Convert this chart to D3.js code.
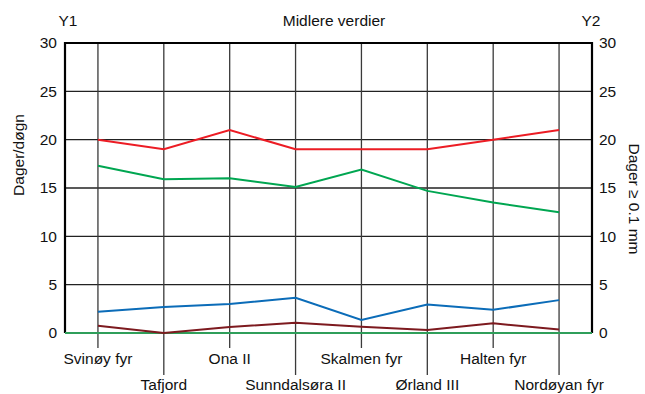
<!DOCTYPE html>
<html>
<head>
<meta charset="utf-8">
<script src="https://cdn.jsdelivr.net/npm/d3@7"></script>
<style>
  html, body { margin: 0; padding: 0; background: #fff; }
  svg text { font-family: "Liberation Sans", Arial, Helvetica, sans-serif; fill: #111; }
</style>
</head>
<body>
<svg id="chart" width="645" height="394"></svg>
<script>
// Stations along the x axis
const stations = ["Svinøy fyr", "Tafjord", "Ona II", "Sunndalsøra II", "Skalmen fyr", "Ørland III", "Halten fyr", "Nordøyan fyr"];

// Mean values per station
const redSeries    = [20, 19, 21, 19, 19, 19, 20, 21];
const greenSeries  = [17.3, 15.9, 16.0, 15.1, 16.9, 14.7, 13.5, 12.5];
const blueSeries   = [2.2, 2.7, 3.0, 3.65, 1.35, 2.95, 2.4, 3.4];
const maroonSeries = [0.75, 0, 0.62, 1.07, 0.65, 0.3, 1.0, 0.35];
const baseSeries   = [0, 0];

const yTicks = [0, 5, 10, 15, 20, 25, 30];

const FS = 15.5;
const svg = d3.select("#chart");
const plotL = 65, plotR = 592, plotT = 43, plotB = 333;

const x = d3.scalePoint().domain(stations).range([plotL, plotR]).padding(0.5);
const y1 = d3.scaleLinear().domain([0, 30]).range([plotB, plotT]);
const y2 = d3.scaleLinear().domain([0, 30]).range([plotB, plotT]);

// Horizontal gridlines
svg.append("g").selectAll("line").data(yTicks.filter(d => d > 0 && d < 30)).join("line")
  .attr("x1", plotL).attr("x2", plotR)
  .attr("y1", d => y1(d)).attr("y2", d => y1(d))
  .attr("stroke", "#222").attr("stroke-width", 1.3);

// Station lines, alternately short and long below the plot
svg.append("g").selectAll("line").data(stations).join("line")
  .attr("x1", d => x(d)).attr("x2", d => x(d))
  .attr("y1", plotT)
  .attr("y2", (d, i) => i % 2 === 0 ? 348 : 375)
  .attr("stroke", "#3a3a3a").attr("stroke-width", 1.3);

// Station labels in two rows
svg.append("g").selectAll("text").data(stations).join("text")
  .attr("x", d => x(d))
  .attr("y", (d, i) => i % 2 === 0 ? 364 : 390)
  .attr("text-anchor", "middle")
  .attr("font-size", FS)
  .text(d => d);

// Frame: top and side axes
svg.append("line").attr("x1", plotL).attr("x2", plotR).attr("y1", plotT).attr("y2", plotT)
  .attr("stroke", "#000").attr("stroke-width", 2);
svg.append("line").attr("x1", plotL).attr("x2", plotL).attr("y1", plotT - 1).attr("y2", plotB)
  .attr("stroke", "#000").attr("stroke-width", 2.2);
svg.append("line").attr("x1", plotR).attr("x2", plotR).attr("y1", plotT - 1).attr("y2", plotB)
  .attr("stroke", "#000").attr("stroke-width", 2.2);

// Tick labels
svg.append("g").selectAll("text").data(yTicks).join("text")
  .attr("x", 57).attr("y", d => y1(d)).attr("dy", "0.35em")
  .attr("text-anchor", "end").attr("font-size", FS).text(d => d);
svg.append("g").selectAll("text").data(yTicks).join("text")
  .attr("x", 599).attr("y", d => y2(d)).attr("dy", "0.35em")
  .attr("text-anchor", "start").attr("font-size", FS).text(d => d);

// Data lines
const line = d3.line().x((d, i) => x(stations[i])).y(d => y1(d));
const series = [
  { values: redSeries, color: "#ec1c24" },
  { values: greenSeries, color: "#00a651" },
  { values: blueSeries, color: "#0b6cb8" },
  { values: maroonSeries, color: "#7d1a1f" }
];

// Zero baseline in green across the full plot width
svg.append("line")
  .attr("x1", plotL).attr("x2", plotR)
  .attr("y1", y1(baseSeries[0])).attr("y2", y1(baseSeries[1]))
  .attr("stroke", "#2f9e5a").attr("stroke-width", 2);

svg.append("g").selectAll("path").data(series).join("path")
  .attr("d", d => line(d.values))
  .attr("fill", "none")
  .attr("stroke", d => d.color)
  .attr("stroke-width", 2);

// Titles
svg.append("text").attr("x", 334).attr("y", 26).attr("text-anchor", "middle")
  .attr("font-size", FS).text("Midlere verdier");
svg.append("text").attr("x", 68).attr("y", 26).attr("text-anchor", "middle")
  .attr("font-size", FS).text("Y1");
svg.append("text").attr("x", 591).attr("y", 26).attr("text-anchor", "middle")
  .attr("font-size", FS).text("Y2");

svg.append("text")
  .attr("transform", "translate(24,155) rotate(-90)")
  .attr("text-anchor", "middle").attr("font-size", FS).text("Dager/døgn");
svg.append("text")
  .attr("transform", "translate(629,199) rotate(90)")
  .attr("text-anchor", "middle").attr("font-size", FS).text("Dager ≥ 0.1 mm");
</script>
</body>
</html>
